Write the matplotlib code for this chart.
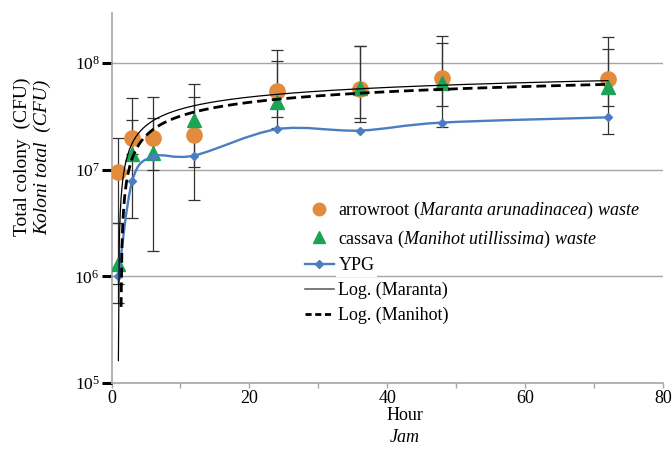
import numpy as np
import matplotlib
matplotlib.use("Agg")
import matplotlib.pyplot as plt
from matplotlib.path import Path
from matplotlib.patches import PathPatch
from matplotlib.lines import Line2D
from matplotlib.ticker import FixedLocator, LogFormatterSciNotation, NullLocator

plt.rcParams['font.family'] = ['Liberation Serif', 'DejaVu Serif']
plt.rcParams['mathtext.fontset'] = 'custom'
plt.rcParams['mathtext.rm'] = 'Liberation Serif'
plt.rcParams['mathtext.it'] = 'Liberation Serif:italic'

# ---- data ----
hours = [1, 3, 6, 12, 24, 36, 48, 72]

maranta = [9.6e6, 2.0e7, 2.0e7, 2.1e7, 5.5e7, 5.7e7, 7.2e7, 7.1e7]
maranta_hi = [2.0e7, 4.73e7, 4.83e7, 4.83e7, 1.05e8, 1.45e8, 1.55e8, 1.36e8]
maranta_lo = [3.18e6, 3.55e6, 1.0e7, 1.07e7, 3.14e7, 3.07e7, 4.0e7, 4.0e7]

manihot = [1.3e6, 1.4e7, 1.43e7, 2.9e7, 4.3e7, 5.8e7, 6.5e7, 6.0e7]
manihot_hi = [3.18e6, 2.94e7, 3.07e7, 6.4e7, 1.33e8, 1.45e8, 1.8e8, 1.76e8]
manihot_lo = [5.6e5, 1.4e7, 1.74e6, 5.2e6, 2.48e7, 2.82e7, 2.53e7, 2.17e7]

ypg = [1.0e6, 7.8e6, 1.33e7, 1.36e7, 2.4e7, 2.33e7, 2.77e7, 3.1e7]
ypg_hi = [1.15e6, 7.8e6, 1.33e7, 1.36e7, 2.4e7, 2.33e7, 2.77e7, 3.1e7]
ypg_lo = [8.5e5, 7.8e6, 1.33e7, 1.36e7, 2.4e7, 2.33e7, 2.77e7, 3.1e7]

x_ticks = [0, 20, 40, 60, 80]
y_ticks = [1e5, 1e6, 1e7, 1e8]

ORANGE = '#E38B3D'
GREEN = '#1DA356'
BLUE = '#4A7EC0'
GRAY = '#a6a6a6'

fig = plt.figure(figsize=(6.72, 4.54), dpi=100)
ax = fig.add_axes([111.5 / 672, 1 - 383 / 454, (663 - 111.5) / 672, (383 - 13) / 454])
ax.set_yscale('log')
ax.set_xlim(0, 80)
ax.set_ylim(1e5, 10 ** 8.47)

for sp in ['top', 'right']:
    ax.spines[sp].set_visible(False)
for sp in ['left', 'bottom']:
    ax.spines[sp].set_color(GRAY)
    ax.spines[sp].set_linewidth(1.2)

ax.yaxis.set_major_locator(FixedLocator(y_ticks))
ax.yaxis.set_major_formatter(LogFormatterSciNotation())
ax.yaxis.set_minor_locator(NullLocator())
ax.tick_params(axis='y', which='major', direction='out', length=7, width=2.2,
               color='black', labelsize=12.5, pad=1.5)
ax.set_xticks(x_ticks)
ax.set_xticks([10, 30, 50, 70], minor=True)
ax.tick_params(axis='x', which='both', direction='out', length=3.5, width=1,
               color=GRAY, labelsize=13, pad=1.5)
ax.set_xticklabels([str(v) for v in x_ticks], fontfamily='Liberation Serif')

for yv in y_ticks[1:]:
    ax.axhline(yv, color=GRAY, lw=1, zorder=0.5)

# ---- error bars ----
def bars(vals, lo, hi):
    v = np.array(vals)
    return np.vstack([v - np.array(lo), np.array(hi) - v])

ekw = dict(fmt='none', ecolor='#333333', elinewidth=0.9, capsize=4, capthick=0.9, zorder=2)
ax.errorbar(hours, maranta, yerr=bars(maranta, maranta_lo, maranta_hi), **ekw)
ax.errorbar(hours, manihot, yerr=bars(manihot, manihot_lo, manihot_hi), **ekw)
ax.errorbar(hours[:1], ypg[:1], yerr=bars(ypg, ypg_lo, ypg_hi)[:, :1], **ekw)

# ---- points ----
ax.plot(hours, maranta, 'o', color=ORANGE, ms=11, mec=ORANGE, zorder=3)
ax.plot(hours, manihot, '^', color=GREEN, ms=9.5, mec=GREEN, zorder=3.5)

# smoothed YPG line (Catmull-Rom -> Bezier in x / log10(y) space)
px = np.array(hours, dtype=float)
py = np.log10(ypg)
verts = [(px[0], py[0])]
codes = [Path.MOVETO]
n = len(px)
for i in range(n - 1):
    p0 = np.array([px[max(i - 1, 0)], py[max(i - 1, 0)]])
    p1 = np.array([px[i], py[i]])
    p2 = np.array([px[i + 1], py[i + 1]])
    p3 = np.array([px[min(i + 2, n - 1)], py[min(i + 2, n - 1)]])
    c1 = p1 + (p2 - p0) / 6
    c2 = p2 - (p3 - p1) / 6
    verts += [tuple(c1), tuple(c2), tuple(p2)]
    codes += [Path.CURVE4] * 3
verts = [(vx, 10 ** vy) for vx, vy in verts]
ax.add_patch(PathPatch(Path(verts, codes), fill=False, edgecolor=BLUE, lw=1.7, zorder=4))
ax.plot(hours, ypg, 'D', color=BLUE, ms=4, zorder=4.5)

# ---- logarithmic trendlines (y = a ln x + b) ----
fit_x = np.linspace(1, 72, 550)
for vals, style in [(maranta, dict(color='black', lw=0.9)),
                    (manihot, dict(color='black', lw=2, dashes=(3.5, 1.8)))]:
    a, b = np.polyfit(np.log(hours), vals, 1)
    fy = a * np.log(fit_x) + b
    fy = np.where(fy > 0, fy, np.nan)
    ax.plot(fit_x, fy, zorder=5, **style)

handles = [
    Line2D([], [], ls='none', marker='o', color=ORANGE, ms=9),
    Line2D([], [], ls='none', marker='^', color=GREEN, ms=8),
    Line2D([], [], color=BLUE, lw=1.7, marker='D', ms=4),
    Line2D([], [], color='#555555', lw=1.1),
    Line2D([], [], color='black', lw=2, dashes=(2.2, 1.3)),
]
labels = [r'arrowroot ($\mathit{Maranta\ arunadinacea)\ waste}$',
          r'cassava ($\mathit{Manihot\ utillissima)\ waste}$',
          'YPG', 'Log. (Maranta)', 'Log. (Manihot)']
leg = fig.legend(handles, labels, loc='upper left', bbox_to_anchor=(305 / 672, 1 - 200 / 454),
                 frameon=False, fontsize=13, borderpad=0, borderaxespad=0,
                 handlelength=1.6, handletextpad=0.25, labelspacing=0.42)
leg.get_texts()[2].set_bbox(dict(facecolor='white', edgecolor='none', pad=2))
leg.set_zorder(6)

fig.text(405 / 672, 1 - 416 / 454, 'Hour', ha='center', va='center', fontsize=13)
fig.text(405 / 672, 1 - 438 / 454, 'Jam', ha='center', va='center', fontsize=13, fontstyle='italic')
fig.text(22 / 672, 1 - 157 / 454, 'Total colony  (CFU)', rotation=90, ha='center', va='center', fontsize=14)
fig.text(43 / 672, 1 - 157 / 454, 'Koloni total  (CFU)', rotation=90, ha='center', va='center',
         fontsize=14, fontstyle='italic')

fig.savefig('out.png', dpi=100)
